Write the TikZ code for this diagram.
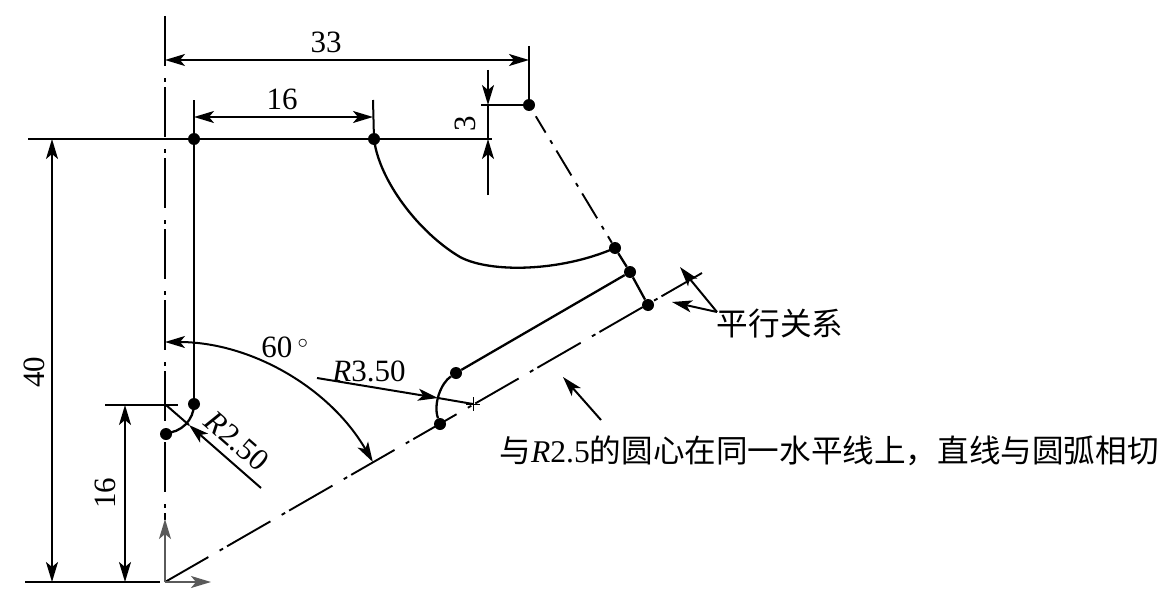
\documentclass[tikz,border=0pt]{standalone}
\usepackage{fontspec}
\setmainfont{Liberation Serif}
\newfontfamily\cjk{Noto Sans CJK SC}
\usetikzlibrary{arrows.meta}
\definecolor{axisgray}{RGB}{90,90,90}
\tikzset{>={Stealth[length=20pt,width=12pt,inset=5pt]},
  outline/.style={line width=2.3pt},
  dimline/.style={line width=2pt},
  centerline/.style={line width=1.9pt,dash pattern=on 50pt off 12pt on 4pt off 5pt},
  slantline/.style={line width=1.9pt,dash pattern=on 50pt off 13pt on 4pt off 4.6pt},
  shortline/.style={line width=1.9pt,dash pattern=on 0pt off 7pt on 19pt off 9pt on 4pt off 8pt on 29pt off 9pt on 4pt off 8pt on 29pt off 9pt on 4pt off 8pt on 29pt off 50pt},
  axisline/.style={line width=1.9pt,axisgray},
  dotnode/.style={circle,fill=black,inner sep=0pt,minimum size=12pt},
  dimtext/.style={font=\fontsize{31}{31}\selectfont,inner sep=0pt},
  notetext/.style={font=\fontsize{31.6}{32}\selectfont,inner sep=0pt}}
\begin{document}
\begin{tikzpicture}[x=1pt,y=-1pt,line cap=butt]
    \useasboundingbox (0,0) rectangle (1172,610);

    % profile points
    \node [dotnode] (topA) at (194,139) {};
    \node [dotnode] (topB) at (374,139) {};
    \node [dotnode] (topC) at (529,105) {};
    \node [dotnode] (midD) at (615,248) {};
    \node [dotnode] (midE) at (630,272) {};
    \node [dotnode] (midF) at (648,305) {};
    \node [dotnode] (arcG) at (456,373) {};
    \node [dotnode] (arcH) at (440,424) {};
    \node [dotnode] (lowJ) at (194,404) {};
    \node [dotnode] (lowK) at (166,434) {};

    \coordinate (origin) at (165,582);
    \coordinate (axisTop) at (165,16);
    \coordinate (axisEnd) at (165,520);
    \coordinate (axisUp) at (165,519);
    \coordinate (axisRight) at (211,582);
    \coordinate (slantEnd) at (702,273);
    \coordinate (arcCenter) at (473,404);

    % center lines
    \draw [centerline] (axisTop) -- (axisEnd);
    \draw [slantline] (origin) -- (slantEnd);
    \draw [shortline] (topC) -- (midD);
    \draw [axisline,->] (origin) -- (axisUp);
    \draw [axisline,->] (origin) -- (axisRight);

    % profile
    \draw [outline] (topA) -- (lowJ);
    \draw [outline] (topA) -- (topB);
    \draw [outline] (topB.center) .. controls (379,180) and (418,232) .. (460,257)
        .. controls (490,273) and (560,272) .. (midD.center);
    \draw [outline] (midD) -- (midE);
    \draw [outline] (midE) -- (midF);
    \draw [outline] (midE) -- (arcG);
    \draw [outline] (arcG) .. controls (441,383) and (433,404) .. (arcH);
    \draw [outline] (lowJ.center) arc [start angle=0,end angle=90,radius=29];

    % extension lines
    \coordinate (topLeft) at (28,139);
    \coordinate (topRight) at (492,139);
    \coordinate (lowLeft) at (105,405);
    \coordinate (lowRight) at (178,405);
    \coordinate (baseLeft) at (25,582);
    \coordinate (baseRight) at (160,582);
    \coordinate (extC) at (529,46);
    \coordinate (extCl) at (481,105);
    \coordinate (extA) at (194,100);
    \coordinate (extB) at (373,100);
    \draw [dimline] (topLeft) -- (topA);
    \draw [dimline] (topB) -- (topRight);
    \draw [dimline] (lowLeft) -- (lowRight);
    \draw [dimline] (baseLeft) -- (baseRight);
    \draw [dimline] (extC) -- (topC);
    \draw [dimline] (extCl) -- (topC);
    \draw [dimline] (extA) -- (topA);
    \draw [dimline] (extB) -- (topB);

    % dimensions
    \coordinate (d33a) at (165,60);
    \coordinate (d33b) at (529,60);
    \coordinate (d16a) at (194,117);
    \coordinate (d16b) at (373,117);
    \coordinate (d40a) at (52,139);
    \coordinate (d40b) at (52,582);
    \coordinate (dl16a) at (125,405);
    \coordinate (dl16b) at (125,582);
    \coordinate (d3top) at (488,70);
    \coordinate (d3a) at (488,105);
    \coordinate (d3b) at (488,139);
    \coordinate (d3low) at (488,195);
    \draw [dimline,<->] (d33a) -- (d33b);
    \draw [dimline,<->] (d16a) -- (d16b);
    \draw [dimline,<->] (d40a) -- (d40b);
    \draw [dimline,<->] (dl16a) -- (dl16b);
    \draw [dimline,->] (d3top) -- (d3a);
    \draw [dimline,->] (d3low) -- (d3b);
    \draw [dimline] (d3a) -- (d3b);

    % 60 degree arc
    \coordinate (angTop) at (165,342);
    \draw [dimline,<->] (angTop) arc [start angle=-90,end angle=-30,radius=240];

    % radius leaders
    \coordinate (r25a) at (261,488);
    \coordinate (r25tip) at (189,425);
    \coordinate (r25c) at (166,405);
    \draw [dimline,->] (r25a) -- (r25tip);
    \draw [dimline] (r25tip) -- (r25c);
    \coordinate (r35a) at (317,378);
    \coordinate (r35tip) at (438,398);
    \draw [dimline,->] (r35a) -- (r35tip);
    \draw [dimline] (r35tip) -- (arcCenter);
    \draw [line width=1pt] (466,404) -- (480,404);
    \draw [line width=1pt] (473,397) -- (473,411);

    % note arrows
    \coordinate (noteA) at (601,420);
    \coordinate (noteAtip) at (563,377);
    \coordinate (noteB) at (717,312);
    \coordinate (noteBtip) at (680,267);
    \coordinate (noteCtip) at (672,302);
    \draw [dimline,->] (noteA) -- (noteAtip);
    \draw [dimline,->] (noteB) -- (noteBtip);
    \draw [dimline,->] (noteB) -- (noteCtip);

    % labels
    \node [dimtext] (lab33) at (326,42) {33};
    \node [dimtext] (lab16) at (282,99) {16};
    \node [dimtext,rotate=90] (lab3) at (465,124) {3};
    \node [dimtext,rotate=90] (lab40) at (34,372) {40};
    \node [dimtext,rotate=90] (labl16) at (105,493) {16};
    \node [dimtext] (lab60) at (285,347) {60\,$^{\circ}$};
    \node [dimtext] (labR35) at (369,371) {\textit{R}3.50};
    \node [dimtext,rotate=-41] (labR25) at (237,441) {\textit{R}2.50};
    \node [notetext] (labPar) at (780,324) {\cjk 平行关系};
    \node [notetext] (labNote) at (829,451) {{\cjk 与}\textit{R}2.5{\cjk 的圆心在同一水平线上，直线与圆弧相切}};

\end{tikzpicture}
\end{document}
